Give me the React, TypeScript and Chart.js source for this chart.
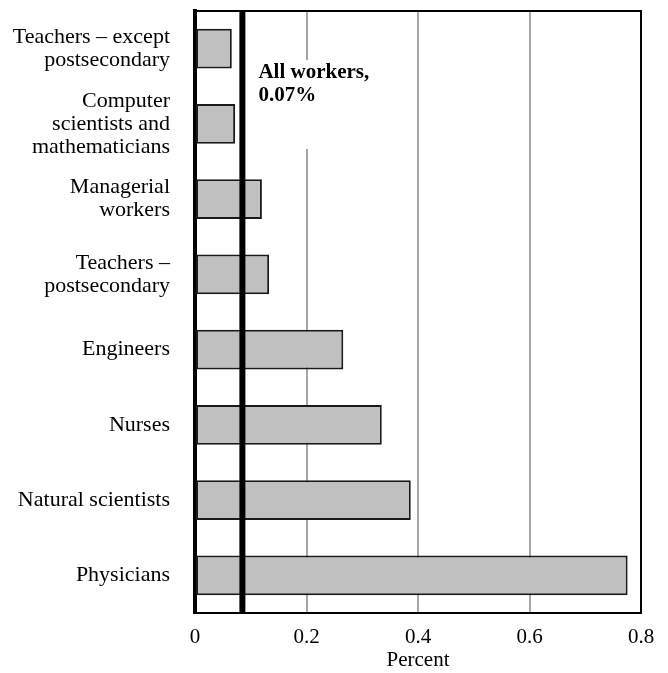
import React, { useEffect, useRef } from "react";
import { Chart, registerables } from "chart.js";

Chart.register(...registerables);

const categories: string[][] = [
  ["Teachers – except", "postsecondary"],
  ["Computer", "scientists and", "mathematicians"],
  ["Managerial", "workers"],
  ["Teachers –", "postsecondary"],
  ["Engineers"],
  ["Nurses"],
  ["Natural scientists"],
  ["Physicians"],
];
const percentValues: number[] = [0.066, 0.072, 0.12, 0.133, 0.266, 0.335, 0.387, 0.776];
const allWorkersValue = 0.085;
const allWorkersLabel: string[] = ["All workers,", "0.07%"];
const xTickLabels: string[] = ["0", "0.2", "0.4", "0.6", "0.8"];
const xTitle = "Percent";

const SERIF = "'Liberation Serif', 'Times New Roman', serif";

const overlayPlugin = {
  id: "overlay",
  afterDatasetsDraw(chart: any) {
    const { ctx, chartArea, scales } = chart;
    const x = scales.x.getPixelForValue(allWorkersValue);
    ctx.save();
    // label background box
    ctx.fillStyle = "#ffffff";
    ctx.fillRect(x + 8, 60, 135, 89);
    // reference line
    ctx.strokeStyle = "#000000";
    ctx.lineWidth = 6;
    ctx.beginPath();
    ctx.moveTo(x, chartArea.top);
    ctx.lineTo(x, chartArea.bottom);
    ctx.stroke();
    // label
    ctx.fillStyle = "#000000";
    ctx.font = "bold 21px " + SERIF;
    ctx.textAlign = "left";
    ctx.textBaseline = "middle";
    allWorkersLabel.forEach((t, i) => ctx.fillText(t, x + 16, 73 + i * 23));
    // frame top/right
    ctx.lineWidth = 2;
    ctx.beginPath();
    ctx.moveTo(chartArea.left, chartArea.top);
    ctx.lineTo(chartArea.right, chartArea.top);
    ctx.lineTo(chartArea.right, chartArea.bottom);
    ctx.stroke();
    ctx.restore();
  },
};

export default function App() {
  const ref = useRef<HTMLCanvasElement>(null);
  useEffect(() => {
    if (!ref.current) return;
    const chart = new Chart(ref.current, {
      type: "bar",
      data: {
        labels: categories,
        datasets: [
          {
            data: percentValues,
            backgroundColor: "#c0c0c0",
            borderColor: "#1a1a1a",
            borderWidth: 2,
            borderSkipped: false,
            categoryPercentage: 1,
            barPercentage: 0.53,
          },
        ],
      },
      options: {
        indexAxis: "y",
        animation: false,
        responsive: false,
        maintainAspectRatio: false,
        layout: { padding: { top: 11, right: 27, left: 0, bottom: 0 } },
        plugins: { legend: { display: false }, tooltip: { enabled: false } },
        scales: {
          x: {
            min: 0,
            max: 0.8,
            ticks: {
              stepSize: 0.2,
              padding: 12,
              color: "#000",
              font: { family: SERIF, size: 21 },
              callback: (_v: any, i: number) => xTickLabels[i],
            },
            grid: {
              drawTicks: false,
              lineWidth: 2,
              color: (c: any) => {
                const v = c.tick ? c.tick.value : 0;
                return v < 0.01 || v > 0.79 ? "rgba(0,0,0,0)" : "#a6a6a6";
              },
            },
            border: { color: "#000", width: 2 },
            title: {
              display: true,
              text: xTitle,
              color: "#000",
              font: { family: SERIF, size: 21 },
              padding: { top: 4, bottom: 0 },
            },
            afterFit: (s: any) => {
              s.height = 60;
              s.paddingLeft = 0;
              s.paddingRight = 0;
            },
          },
          y: {
            ticks: {
              padding: 25,
              color: "#000",
              font: { family: SERIF, size: 22, lineHeight: 1.05 },
            },
            grid: { display: false, drawTicks: false },
            border: { color: "#000", width: 4 },
            afterFit: (s: any) => {
              s.width = 195;
              s.paddingTop = 0;
              s.paddingBottom = 0;
            },
          },
        },
      },
      plugins: [overlayPlugin],
    });
    return () => chart.destroy();
  }, []);
  return (
    <div style={{ position: "fixed", left: 0, top: 0, width: 668, height: 673, background: "#fff" }}>
      <canvas ref={ref} width={668} height={673} style={{ width: 668, height: 673 }} />
    </div>
  );
}
